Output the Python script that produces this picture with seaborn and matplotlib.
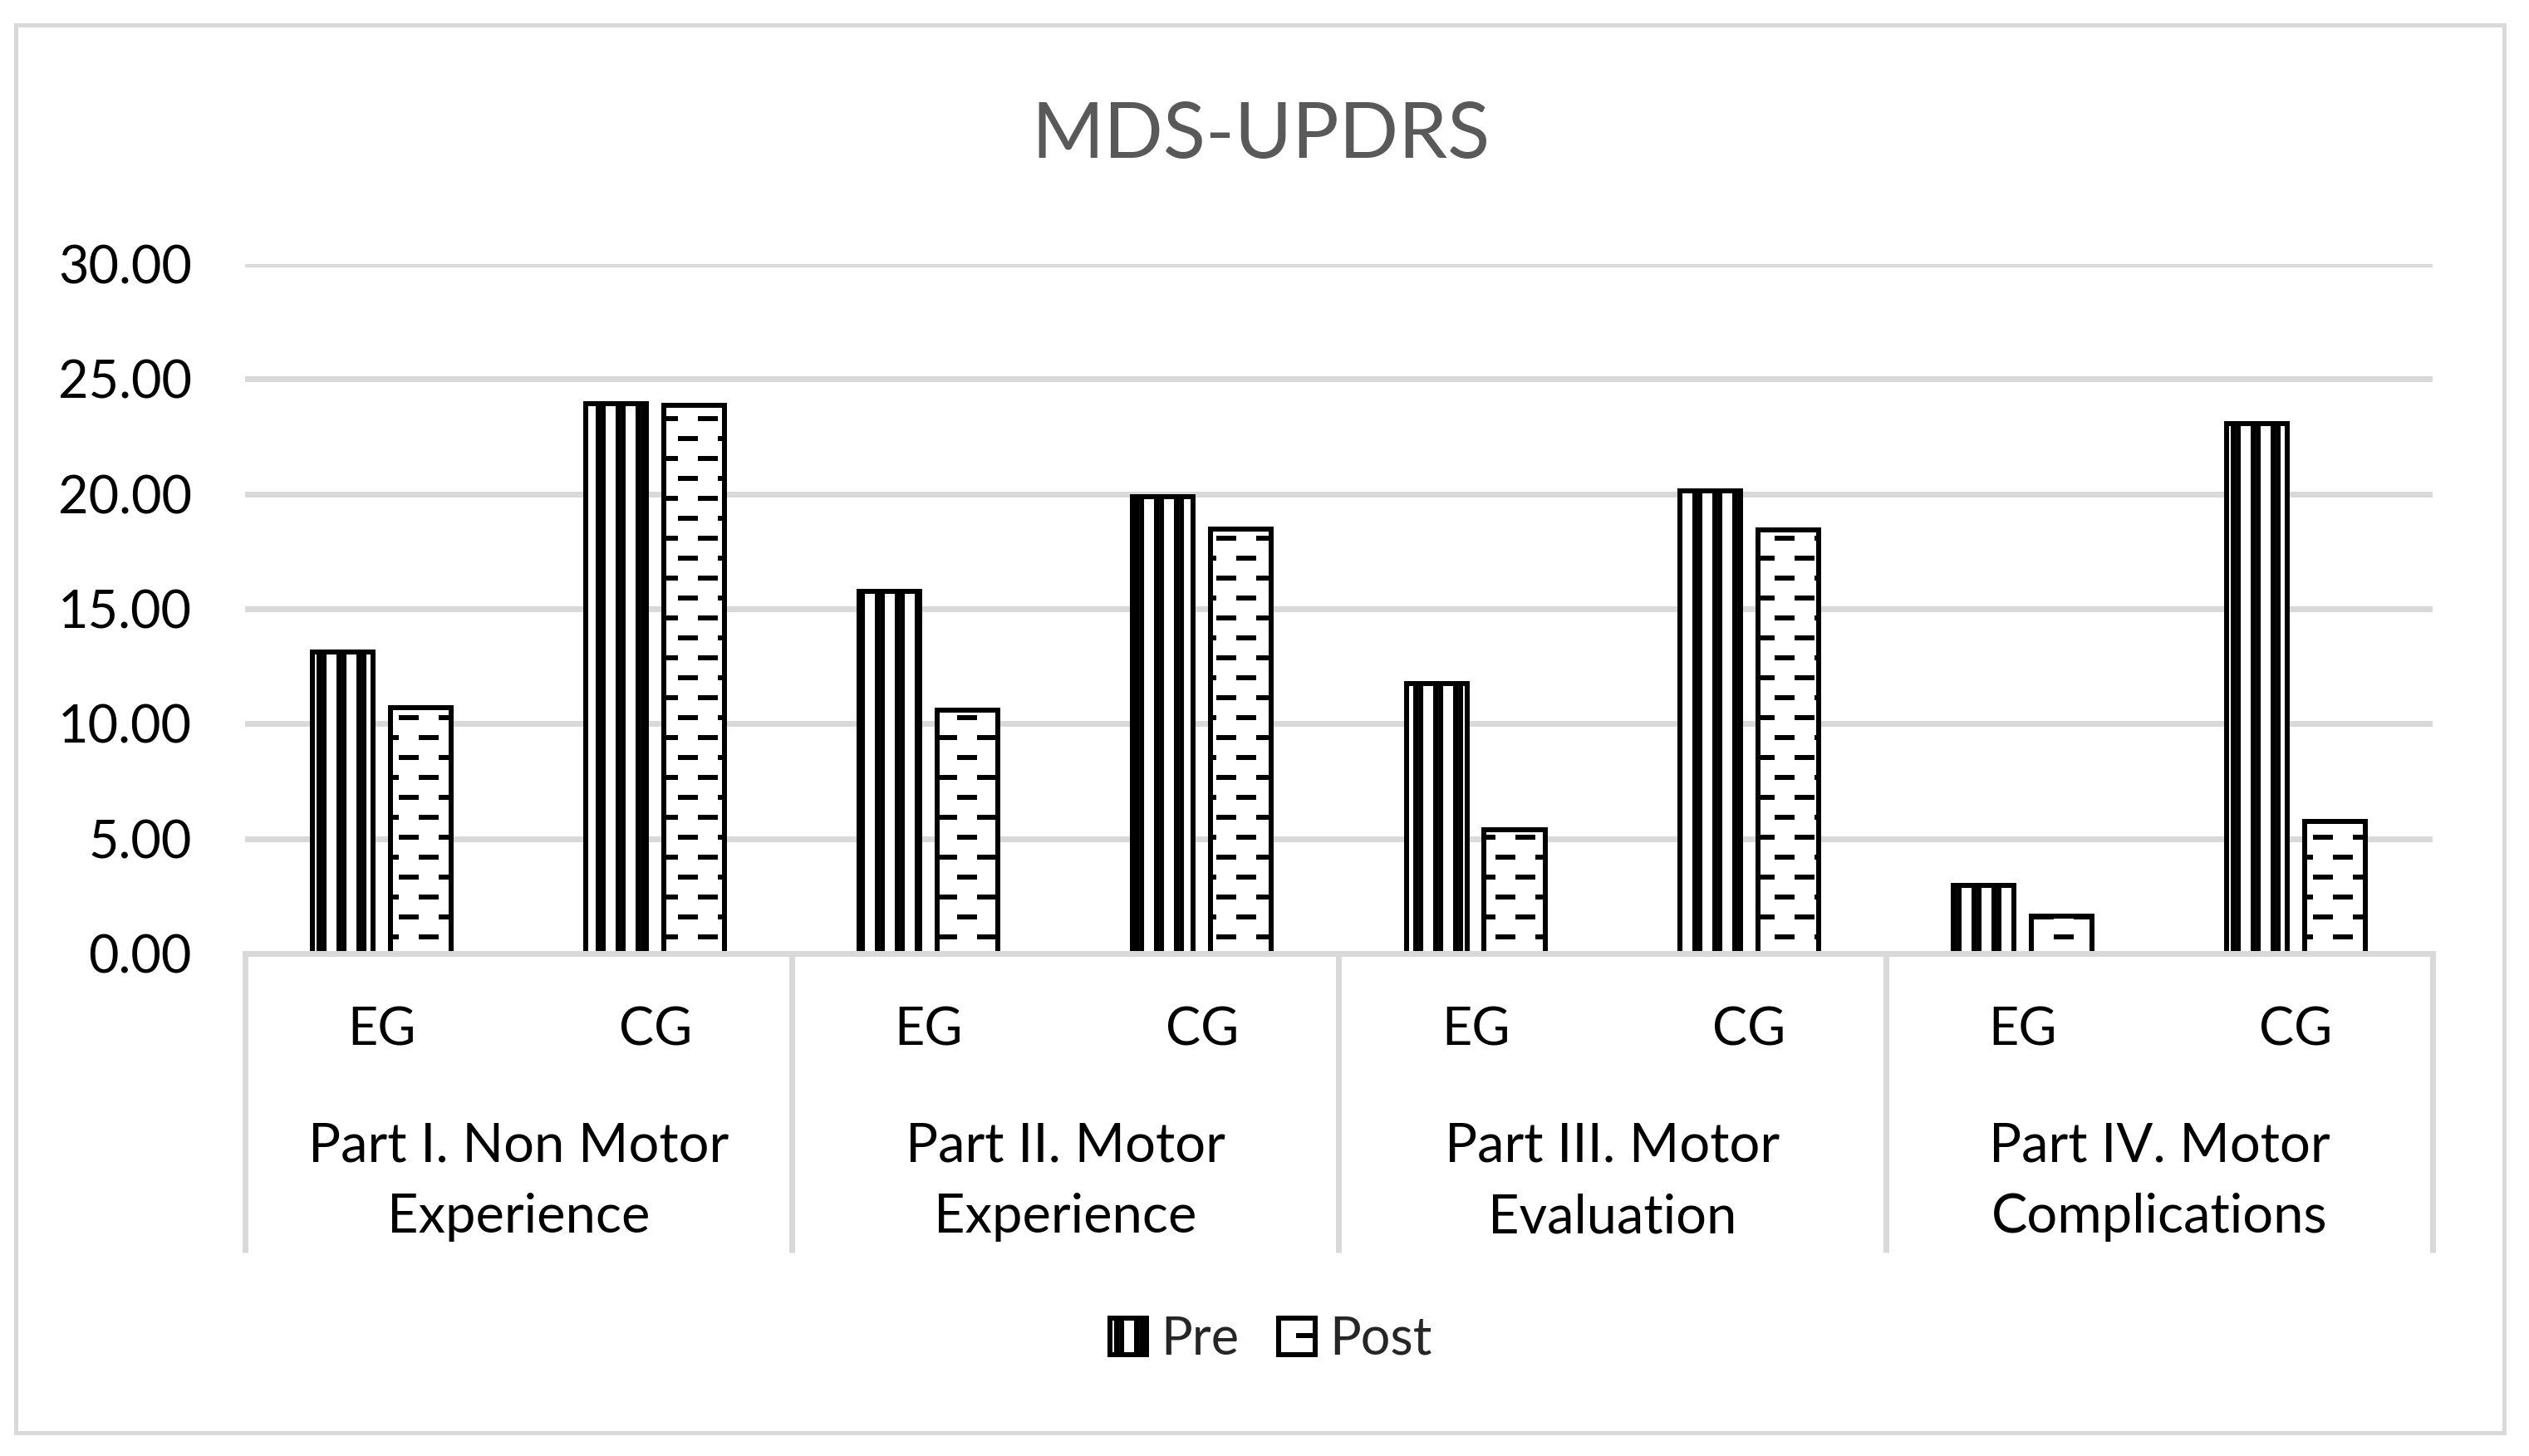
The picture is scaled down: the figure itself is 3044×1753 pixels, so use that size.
import numpy as np
import pandas as pd
import matplotlib
matplotlib.use('Agg')
import matplotlib.pyplot as plt
import matplotlib.hatch as mhatch
from matplotlib.path import Path
from matplotlib.patches import Rectangle
import seaborn as sns

# values
parts = ['Part I. Non Motor\nExperience', 'Part II. Motor\nExperience',
         'Part III. Motor\nEvaluation', 'Part IV. Motor\nComplications']
groups = ['EG', 'CG']
pre_scores = [13.11, 23.94, 15.77, 19.88, 11.73, 20.14, 2.98, 23.05]
post_scores = [10.71, 23.87, 10.59, 18.48, 5.38, 18.42, 1.63, 5.74]
times = ['Pre', 'Post']
y_ticks = [0, 5, 10, 15, 20, 25, 30]

GRID = '#D9D9D9'


# Excel-like fills: '|' -> wide vertical stripes, '-' -> dashed horizontal rows
class WideVertical(mhatch.HatchPatternBase):
    def __init__(self, hatch, density):
        self.num_lines = int(hatch.count('|') * density)
        self.num_vertices = (self.num_lines + 1) * 4 if self.num_lines else 0

    def set_vertices_and_codes(self, vertices, codes):
        xs = np.linspace(0.0, 1.0, self.num_lines + 1)
        xs = np.repeat(xs, 2) + np.tile([0.0, 0.042], len(xs))
        vertices[0::2, 0] = xs
        vertices[0::2, 1] = 0.0
        vertices[1::2, 0] = xs
        vertices[1::2, 1] = 1.0
        codes[0::2] = Path.MOVETO
        codes[1::2] = Path.LINETO


class DashedHorizontal(mhatch.HatchPatternBase):
    def __init__(self, hatch, density):
        self.num_rows = int(hatch.count('-') * density)
        self.num_vertices = (self.num_rows + 1) * 6 if self.num_rows else 0

    def set_vertices_and_codes(self, vertices, codes):
        k = 0
        for i in range(self.num_rows + 1):
            y = i / self.num_rows
            shift = (i % 2) / 6
            for j in range(3):
                cx = 1 / 12 + shift + j / 3
                vertices[k] = (cx - 0.0625, y)
                vertices[k + 1] = (cx + 0.0625, y)
                codes[k] = Path.MOVETO
                codes[k + 1] = Path.LINETO
                k += 2


mhatch._hatch_types = [WideVertical, DashedHorizontal] + [
    h for h in mhatch._hatch_types
    if h not in (mhatch.HorizontalHatch, mhatch.VerticalHatch)]

sns.set_theme(style='white')
plt.rcParams['font.family'] = ['Lato', 'DejaVu Sans']
plt.rcParams['hatch.linewidth'] = 3.0
plt.rcParams['hatch.color'] = 'black'

slots = [p + '|' + g for p in parts for g in groups]
df = pd.DataFrame({
    'slot': slots * 2,
    'Time': ['Pre'] * len(slots) + ['Post'] * len(slots),
    'score': pre_scores + post_scores,
})

DPI = 144
fig = plt.figure(figsize=(3044 / DPI, 1753 / DPI), dpi=DPI)
ax = fig.add_axes([0.0969, 0.3451, 0.8650, 0.4735])

sns.barplot(data=df, x='slot', y='score', hue='Time', hue_order=times,
            order=slots, palette=['white', 'white'], saturation=1,
            edgecolor='black', linewidth=3, width=0.571, gap=0.222,
            errorbar=None, legend=False, ax=ax)

for container, hatch in zip(ax.containers, ['|', '-']):
    for bar in container:
        bar.set_hatch(hatch)

ax.set_xlim(-0.5, len(slots) - 0.5)
ax.set_ylim(0, 30)
ax.set_yticks(y_ticks)
ax.set_yticklabels([f'{v:.2f}' for v in y_ticks])
ax.set_xticks(range(len(slots)))
ax.set_xticklabels(groups * len(parts))
ax.tick_params(length=0, labelsize=31.5, colors='black')
ax.tick_params(axis='y', pad=32)
ax.tick_params(axis='x', pad=31.5)
ax.set_xlabel('')
ax.set_ylabel('')

for side in ['top', 'left', 'right']:
    ax.spines[side].set_visible(False)
ax.spines['bottom'].set_color(GRID)
ax.spines['bottom'].set_linewidth(3.5)
ax.set_axisbelow(True)
ax.yaxis.grid(True, color=GRID, linewidth=3.5)

# category separators below the axis
xtrans = ax.get_xaxis_transform()
for x in np.arange(-0.5, len(slots), 2):
    ax.plot([x, x], [0, -0.434], transform=xtrans, color=GRID, lw=3.5,
            clip_on=False, solid_capstyle='butt')

for i, part in enumerate(parts):
    for line_y, line in zip([-0.2723, -0.3759], part.split('\n')):
        ax.text(2 * i + 0.5, line_y, line, transform=xtrans, ha='center',
                va='center_baseline', fontsize=32.5, color='black')

fig.text(0.4984, 0.911, 'MDS-UPDRS', ha='center', va='center_baseline',
         fontsize=47, color='#595959')

handles = [ax.containers[0][0], ax.containers[1][0]]
fig.legend(handles, times, loc='center', bbox_to_anchor=(0.5025, 0.0799),
           ncol=2, frameon=False, fontsize=31.5, handlelength=0.7,
           handleheight=0.7, handletextpad=0.28, columnspacing=0.75)

# outer chart frame
fig.patches.append(Rectangle((19 / 3044, 1 - 1725 / 1753), 2995 / 3044,
                             1695 / 1753, transform=fig.transFigure,
                             fill=False, edgecolor=GRID, lw=2.5))

fig.savefig('out.png', dpi=DPI)
